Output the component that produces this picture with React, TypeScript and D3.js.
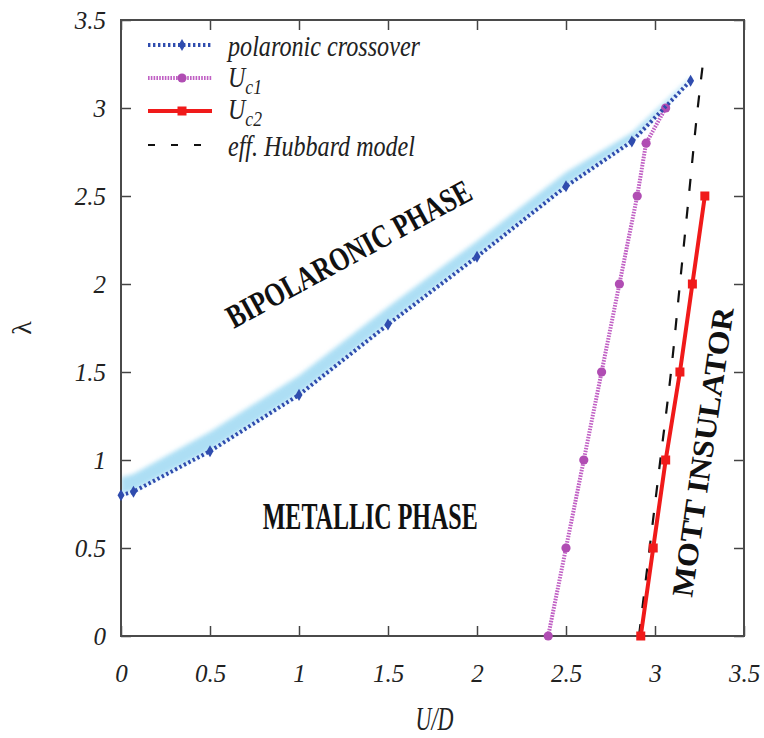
import React, { useEffect, useRef } from "react";
import * as d3 from "d3";

// polaronic crossover (blue)
const polaronU = [0, 0.07, 0.5, 1.0, 1.5, 2.0, 2.5, 2.87, 3.2];
const polaronLambda = [0.8, 0.82, 1.05, 1.37, 1.77, 2.155, 2.555, 2.81, 3.155];
const polaronBand = [0.1, 0.1, 0.11, 0.11, 0.1, 0.09, 0.08, 0.05, 0.02];

// U_c1 (magenta)
const uc1Lambda = [0, 0.5, 1.0, 1.5, 2.0, 2.5, 2.8, 3.0];
const uc1U = [2.4, 2.5, 2.6, 2.7, 2.8, 2.9, 2.95, 3.06];

// U_c2 (red)
const uc2Lambda = [0, 0.5, 1.0, 1.5, 2.0, 2.5];
const uc2U = [2.92, 2.99, 3.06, 3.14, 3.21, 3.28];

// effective Hubbard model (black dashed)
const hubbardLambda = [0, 0.5, 1.0, 1.5, 2.0, 2.5, 3.0, 3.26];
const hubbardU = [2.91, 2.97, 3.03, 3.09, 3.14, 3.19, 3.24, 3.27];

const tickValues = [0, 0.5, 1, 1.5, 2, 2.5, 3, 3.5];

const W = 764;
const H = 738;
const margin = { top: 20, right: 20, bottom: 102, left: 121 };

const BLUE = "#2f4cae";
const MAGENTA = "#c060c4";
const MAGENTA_DOT = "#b04db3";
const RED = "#f01a1a";
const SERIF = "Liberation Serif, DejaVu Serif, serif";

export default function App() {
  const ref = useRef<SVGSVGElement>(null);

  useEffect(() => {
    if (!ref.current) return;
    const svg = d3.select(ref.current);
    svg.selectAll("*").remove();

    const x = d3.scaleLinear().domain([0, 3.5]).range([margin.left, W - margin.right]);
    const y = d3.scaleLinear().domain([0, 3.5]).range([H - margin.bottom, margin.top]);

    const defs = svg.append("defs");
    defs
      .append("filter")
      .attr("id", "blur")
      .attr("x", "-10%")
      .attr("y", "-10%")
      .attr("width", "120%")
      .attr("height", "120%")
      .append("feGaussianBlur")
      .attr("stdDeviation", 2.2);
    defs
      .append("clipPath")
      .attr("id", "plot")
      .append("rect")
      .attr("x", x(0))
      .attr("y", y(3.5))
      .attr("width", x(3.5) - x(0))
      .attr("height", y(0) - y(3.5));

    // light blue band above the crossover line
    const band = polaronU.map((u, i) => ({
      u,
      lo: polaronLambda[i] + 0.005,
      hi: polaronLambda[i] + polaronBand[i],
    }));
    svg
      .append("path")
      .datum(band)
      .attr("clip-path", "url(#plot)")
      .attr(
        "d",
        d3
          .area<any>()
          .x((d) => x(d.u))
          .y0((d) => y(d.lo))
          .y1((d) => y(d.hi))
          .curve(d3.curveLinear)
      )
      .attr("fill", "#9fd9f3")
      .attr("opacity", 0.85)
      .attr("filter", "url(#blur)");

    // axes (ticks pointing inward on all four sides)
    const fmt = (d: any) => d3.format("")(d);
    const styleAxis = (g: any) => {
      g.attr("font-family", SERIF).attr("font-size", 25);
      g.select(".domain").remove();
      g.selectAll("line").attr("stroke", "#444").attr("stroke-width", 1.5);
      g.selectAll("text")
        .attr("font-family", SERIF)
        .attr("font-style", "italic")
        .attr("font-size", 25)
        .attr("fill", "#222");
    };

    svg
      .append("g")
      .attr("transform", `translate(0,${y(0)})`)
      .call(d3.axisBottom(x).tickValues(tickValues).tickSizeInner(-10).tickSizeOuter(0).tickPadding(28).tickFormat(fmt))
      .call(styleAxis);
    svg
      .append("g")
      .attr("transform", `translate(${x(0)},0)`)
      .call(d3.axisLeft(y).tickValues(tickValues).tickSizeInner(-10).tickSizeOuter(0).tickPadding(15).tickFormat(fmt))
      .call(styleAxis);
    svg
      .append("g")
      .attr("transform", `translate(0,${y(3.5)})`)
      .call(d3.axisTop(x).tickValues(tickValues).tickSizeInner(-10).tickSizeOuter(0).tickFormat(() => ""))
      .call(styleAxis);
    svg
      .append("g")
      .attr("transform", `translate(${x(3.5)},0)`)
      .call(d3.axisRight(y).tickValues(tickValues).tickSizeInner(-10).tickSizeOuter(0).tickFormat(() => ""))
      .call(styleAxis);

    // frame
    svg
      .append("rect")
      .attr("x", x(0))
      .attr("y", y(3.5))
      .attr("width", x(3.5) - x(0))
      .attr("height", y(0) - y(3.5))
      .attr("fill", "none")
      .attr("stroke", "#4a4a4a")
      .attr("stroke-width", 2);

    // axis titles
    svg
      .append("text")
      .attr("x", (x(0) + x(3.5)) / 2 + 2)
      .attr("y", 730)
      .attr("text-anchor", "middle")
      .attr("font-family", SERIF)
      .attr("font-style", "italic")
      .attr("font-size", 34)
      .attr("textLength", 38)
      .attr("lengthAdjust", "spacingAndGlyphs")
      .attr("fill", "#222")
      .text("U/D");
    svg
      .append("text")
      .attr("transform", `translate(31,${(y(0) + y(3.5)) / 2}) rotate(-90)`)
      .attr("text-anchor", "middle")
      .attr("font-family", SERIF)
      .attr("font-size", 28)
      .attr("fill", "#222")
      .text("λ");

    const plot = svg.append("g").attr("clip-path", "url(#plot)");
    const lineUL = d3
      .line<[number, number]>()
      .x((d) => x(d[0]))
      .y((d) => y(d[1]));

    // effective Hubbard model
    const hubbard = hubbardU.map((u, i) => [u, hubbardLambda[i]] as [number, number]);
    plot
      .append("path")
      .attr("d", lineUL.curve(d3.curveMonotoneY)(hubbard))
      .attr("fill", "none")
      .attr("stroke", "#111")
      .attr("stroke-width", 2.2)
      .attr("stroke-dasharray", "12,16");

    // U_c1
    const uc1 = uc1U.map((u, i) => [u, uc1Lambda[i]] as [number, number]);
    svg
      .append("path")
      .attr("d", lineUL.curve(d3.curveLinear)(uc1))
      .attr("fill", "none")
      .attr("stroke", MAGENTA)
      .attr("stroke-width", 4)
      .attr("stroke-dasharray", "1.6,1.2");
    svg
      .append("g")
      .selectAll("circle")
      .data(uc1)
      .join("circle")
      .attr("cx", (d) => x(d[0]))
      .attr("cy", (d) => y(d[1]))
      .attr("r", 4.6)
      .attr("fill", MAGENTA_DOT);

    // U_c2
    const uc2 = uc2U.map((u, i) => [u, uc2Lambda[i]] as [number, number]);
    svg
      .append("path")
      .attr("d", lineUL.curve(d3.curveLinear)(uc2))
      .attr("fill", "none")
      .attr("stroke", RED)
      .attr("stroke-width", 4);
    svg
      .append("g")
      .selectAll("rect")
      .data(uc2)
      .join("rect")
      .attr("x", (d) => x(d[0]) - 4.5)
      .attr("y", (d) => y(d[1]) - 4.5)
      .attr("width", 9)
      .attr("height", 9)
      .attr("fill", RED);

    // polaronic crossover
    const pol = polaronU.map((u, i) => [u, polaronLambda[i]] as [number, number]);
    svg
      .append("path")
      .attr("d", lineUL.curve(d3.curveLinear)(pol))
      .attr("fill", "none")
      .attr("stroke", BLUE)
      .attr("stroke-width", 4)
      .attr("stroke-dasharray", "2.4,2.6");
    const diamond = d3.symbol().type(d3.symbolDiamond).size(42);
    svg
      .append("g")
      .selectAll("path")
      .data(pol)
      .join("path")
      .attr("transform", (d) => `translate(${x(d[0])},${y(d[1])})`)
      .attr("d", diamond() as string)
      .attr("fill", BLUE);

    // region labels
    const label = (u: number, l: number, angle: number, size: number, len: number, txt: string) =>
      svg
        .append("text")
        .attr("transform", `translate(${x(u)},${y(l)}) rotate(${angle})`)
        .attr("text-anchor", "middle")
        .attr("dy", "0.33em")
        .attr("font-family", SERIF)
        .attr("font-weight", "bold")
        .attr("font-size", size)
        .attr("textLength", len)
        .attr("lengthAdjust", "spacingAndGlyphs")
        .attr("fill", "#111")
        .text(txt);
    label(1.28, 2.17, -28.5, 33, 274, "BIPOLARONIC PHASE");
    label(1.4, 0.68, 0, 38, 215, "METALLIC PHASE");
    label(3.27, 1.045, -81.8, 30, 292, "MOTT INSULATOR");

    // legend
    const lg = svg.append("g");
    const x0 = 148;
    const x1 = 212;
    const xm = 182;
    const rows = [45, 78, 111, 145];
    lg.append("line").attr("x1", x0).attr("x2", x1).attr("y1", rows[0]).attr("y2", rows[0])
      .attr("stroke", BLUE).attr("stroke-width", 4).attr("stroke-dasharray", "2.4,2.6");
    lg.append("path").attr("transform", `translate(${xm},${rows[0]})`).attr("d", diamond() as string).attr("fill", BLUE);
    lg.append("line").attr("x1", x0).attr("x2", x1).attr("y1", rows[1]).attr("y2", rows[1])
      .attr("stroke", MAGENTA).attr("stroke-width", 4).attr("stroke-dasharray", "1.6,1.2");
    lg.append("circle").attr("cx", xm).attr("cy", rows[1]).attr("r", 4.6).attr("fill", MAGENTA_DOT);
    lg.append("line").attr("x1", x0).attr("x2", x1).attr("y1", rows[2]).attr("y2", rows[2])
      .attr("stroke", RED).attr("stroke-width", 4);
    lg.append("rect").attr("x", xm - 4.5).attr("y", rows[2] - 4.5).attr("width", 9).attr("height", 9).attr("fill", RED);
    lg.append("line").attr("x1", x0).attr("x2", x1).attr("y1", rows[3]).attr("y2", rows[3])
      .attr("stroke", "#111").attr("stroke-width", 2.2).attr("stroke-dasharray", "7,16");

    const legText = (yy: number) =>
      lg
        .append("text")
        .attr("x", 228)
        .attr("y", yy)
        .attr("font-family", SERIF)
        .attr("font-style", "italic")
        .attr("font-size", 30)
        .attr("fill", "#222");
    legText(56).attr("textLength", 192).attr("lengthAdjust", "spacingAndGlyphs").text("polaronic crossover");
    legText(156).attr("textLength", 187).attr("lengthAdjust", "spacingAndGlyphs").text("eff. Hubbard model");

    const sub = (yy: number, s: string) => {
      const t = lg
        .append("text")
        .attr("transform", `translate(228,${yy}) scale(0.8,1)`)
        .attr("font-family", SERIF)
        .attr("font-style", "italic")
        .attr("font-size", 30)
        .attr("fill", "#222");
      t.append("tspan").text("U");
      t.append("tspan").attr("font-size", 22).attr("dy", 7).text(s);
    };
    sub(87, "c1");
    sub(119, "c2");
  }, []);

  return (
    <svg
      ref={ref}
      width={W}
      height={H}
      fontFamily={SERIF}
      style={{ position: "absolute", left: 0, top: 0, background: "#fff" }}
    />
  );
}
